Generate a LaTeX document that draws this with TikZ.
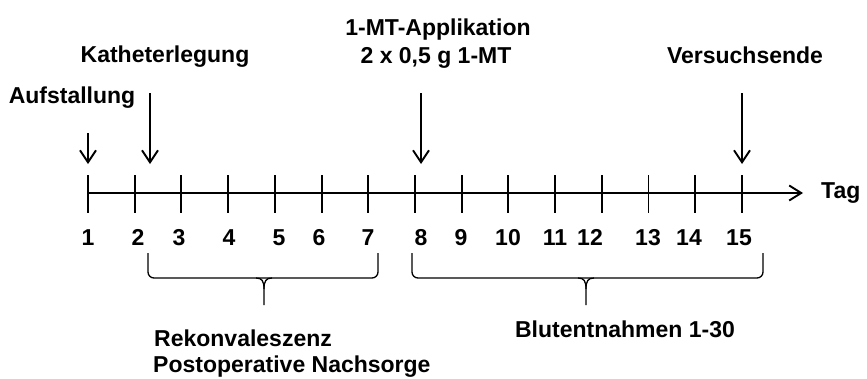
\documentclass[tikz,border=0pt]{standalone}
\usepackage{fontspec}
\setmainfont{Liberation Sans}
\usetikzlibrary{arrows.meta}
\begin{document}
\begin{tikzpicture}[x=1pt,y=-1pt,
  lbl/.style={inner sep=0pt, font=\fontsize{23}{26}\selectfont\bfseries},
  axisline/.style={line width=1.9pt},
  evarrow/.style={line width=1.9pt, -{Straight Barb[length=12pt,width=16pt,line width=1.9pt]}},
  bracepath/.style={line width=1.3pt, rounded corners=6pt},
  bracetip/.style={line width=1.3pt}]
\useasboundingbox (0,0) rectangle (867,378);
% axis
\coordinate (ax0) at (88,193);
\coordinate (axend) at (803,193);
\draw[axisline, -{Straight Barb[length=12pt,width=15pt,line width=1.9pt]}] (ax0) -- (axend);
\node[lbl, anchor=base west] (tag) at (821,198) {Tag};
% ticks
\foreach \i in {1,...,15} {
  \coordinate (tt\i) at ({88+(\i-1)*46.71},175);
  \coordinate (tb\i) at ({88+(\i-1)*46.71},213);
  \draw[axisline] (tt\i) -- (tb\i);
}
% day numbers
\foreach \n/\x in {1/88,2/138,3/179,4/229,5/279,6/319,7/368,8/421,9/461,10/508,11/555,12/590,13/648,14/689,15/739} {
  \node[lbl, anchor=base] (n\n) at (\x,245) {\n};
}
% events
\node[lbl, anchor=base] (aufst) at (72,103) {Aufstallung};
\node[lbl, anchor=base] (kath) at (165,62) {Katheterlegung};
\node[lbl, anchor=base] (mt1) at (438,35) {1-MT-Applikation};
\node[lbl, anchor=base] (mt2) at (436,63) {2 x 0,5 g 1-MT};
\node[lbl, anchor=base] (vers) at (745,63) {Versuchsende};
\coordinate (e1s) at (88,133);  \coordinate (e1e) at (88,164);
\coordinate (e2s) at (150,93);  \coordinate (e2e) at (150,164);
\coordinate (e3s) at (421,93);  \coordinate (e3e) at (421,164);
\coordinate (e4s) at (742,93);  \coordinate (e4e) at (742,164);
\draw[evarrow] (e1s) -- (e1e);
\draw[evarrow] (e2s) -- (e2e);
\draw[evarrow] (e3s) -- (e3e);
\draw[evarrow] (e4s) -- (e4e);
% braces
\draw[bracepath] (148,253) -- (148,278) -- (378,278) -- (378,253);
\draw[bracetip] (256,278) .. controls (262,278) and (264,281) .. (264,289) -- (264,305);
\draw[bracetip] (272,278) .. controls (266,278) and (264,281) .. (264,289);
\draw[bracepath] (412,253) -- (412,278) -- (763,278) -- (763,253);
\draw[bracetip] (578,278) .. controls (584,278) and (586,281) .. (586,289) -- (586,305);
\draw[bracetip] (594,278) .. controls (588,278) and (586,281) .. (586,289);
% brace labels
\node[lbl, anchor=base west] (rek) at (154,346) {Rekonvaleszenz};
\node[lbl, anchor=base west] (post) at (153,372) {Postoperative Nachsorge};
\node[lbl, anchor=base] (blut) at (625,337) {Blutentnahmen 1-30};
\end{tikzpicture}
\end{document}
